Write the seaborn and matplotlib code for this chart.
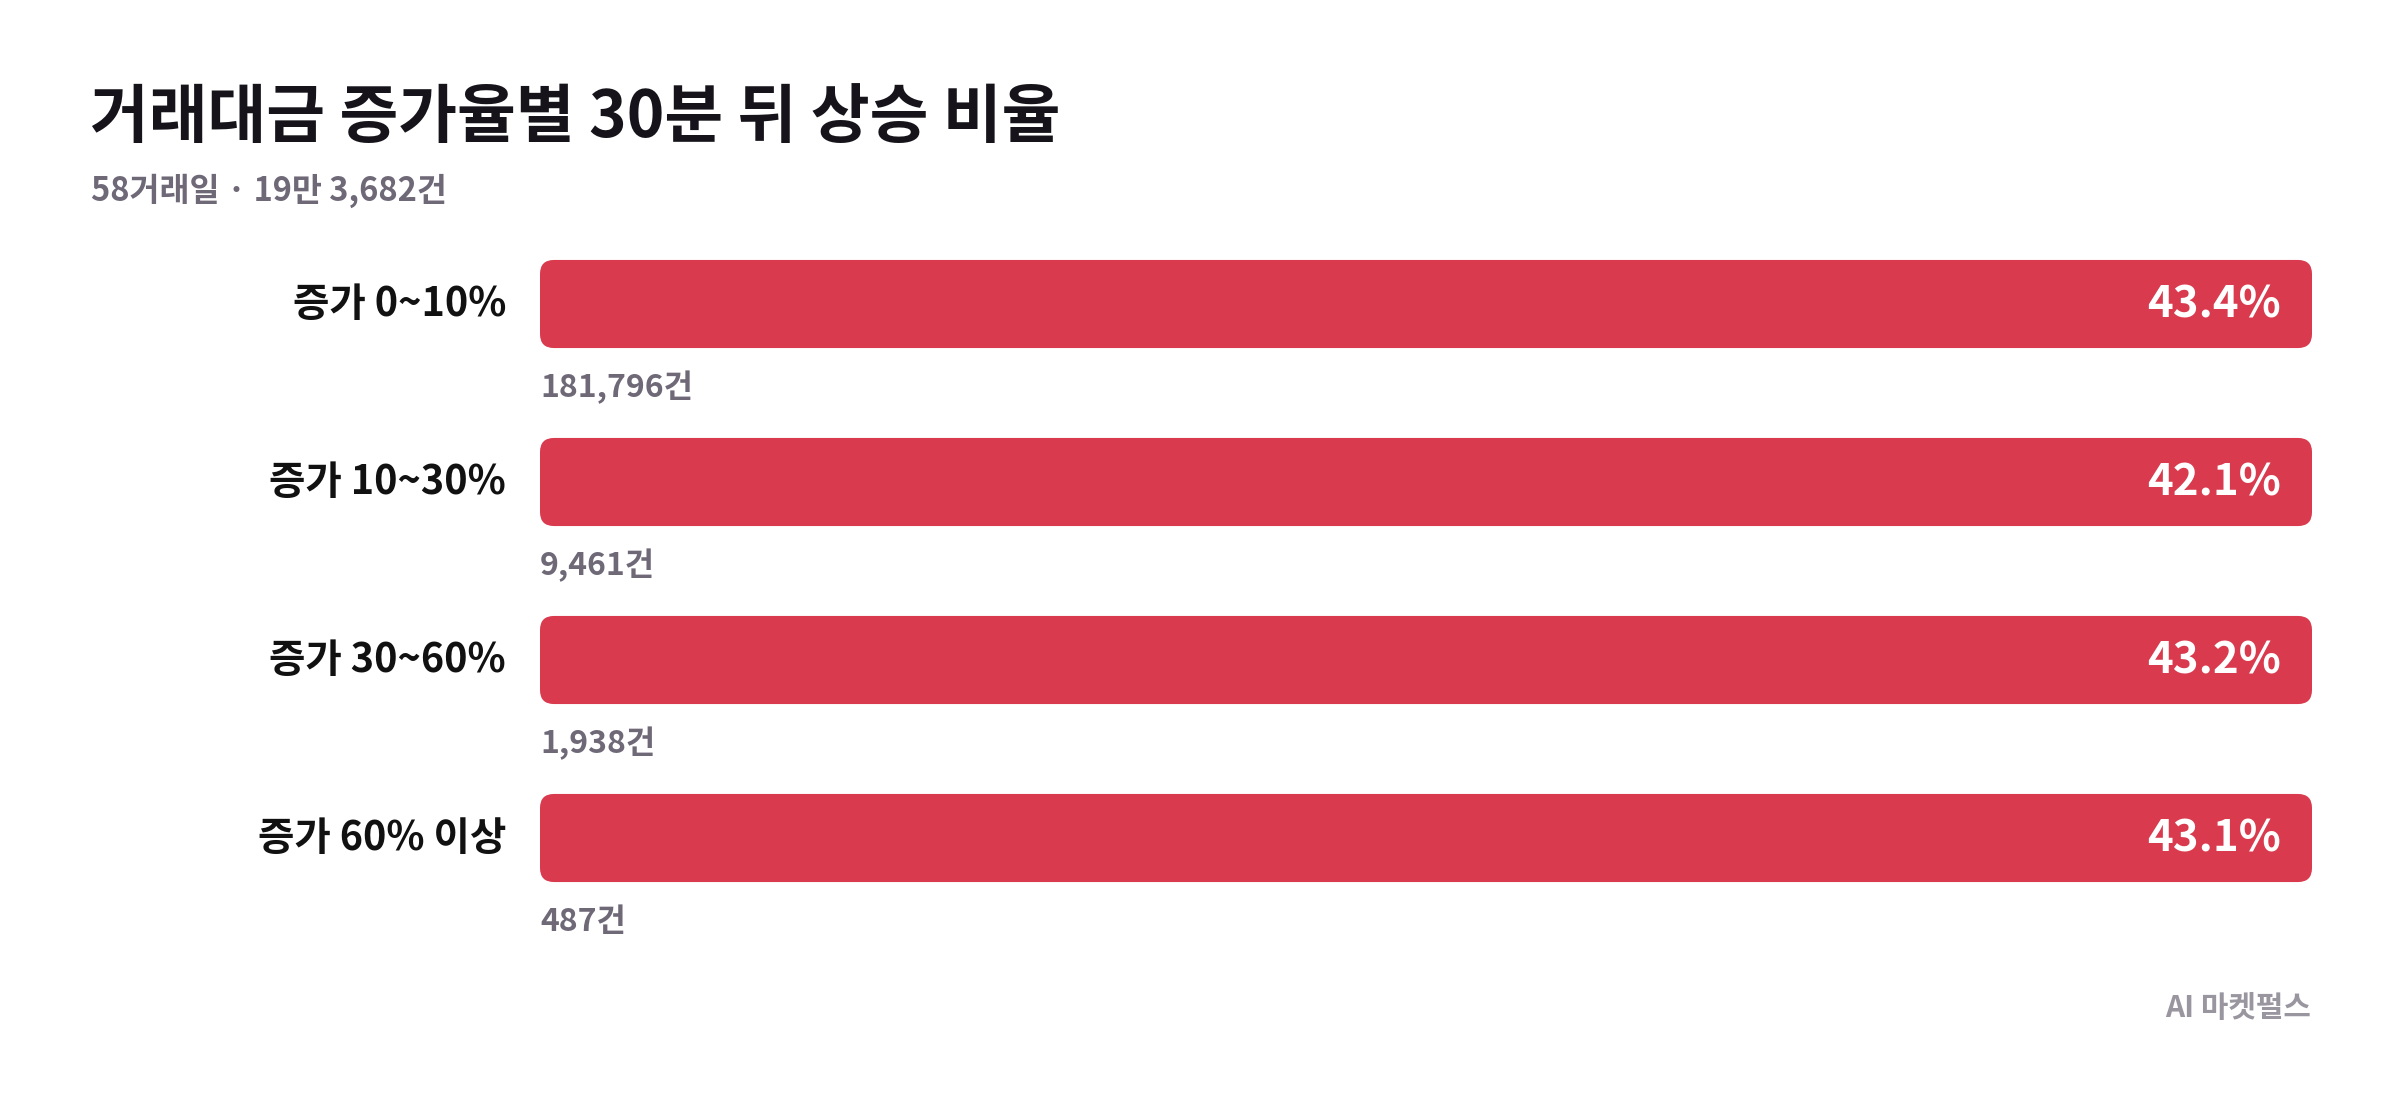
import numpy as np
import pandas as pd
import seaborn as sns
from matplotlib import pyplot as plt
from matplotlib.patches import FancyBboxPatch
from matplotlib import transforms

# data
categories = ['증가 0~10%', '증가 10~30%', '증가 30~60%', '증가 60% 이상']
up_ratio = [43.4, 42.1, 43.2, 43.1]
case_counts = [181796, 9461, 1938, 487]

title = '거래대금 증가율별 30분 뒤 상승 비율'
subtitle = '58거래일 · 19만 3,682건'
source = 'AI 마켓펄스'

# the bars in the reference are all full length: the scale tops out at 40%
scale_max = 40.0

BAR_RED = '#D93A4E'
INK = '#16141A'
GREY = '#6E6877'
LIGHT_GREY = '#9A96A0'

sns.set_theme(style='white')
plt.rcParams['font.family'] = ['Noto Sans CJK KR', 'DejaVu Sans']

df = pd.DataFrame({'category': categories,
                   'ratio': up_ratio,
                   'count': case_counts})
df['bar_len'] = np.minimum(df['ratio'], scale_max)

W, H = 2400, 1108
fig = plt.figure(figsize=(W / 100, H / 100), dpi=100)
fig.patch.set_facecolor('white')

# axes placed in pixels: bars from x=540 to 2312, rows centred at 304..838
ax_left, ax_right = 540, 2312
ax_top, ax_bottom = 215, 927
ax = fig.add_axes([ax_left / W, 1 - ax_bottom / H,
                   (ax_right - ax_left) / W, (ax_bottom - ax_top) / H])

sns.barplot(data=df, x='bar_len', y='category', orient='h', color=BAR_RED,
            width=0.495, saturation=1, ax=ax)
ax.set_xlim(0, scale_max)
ax.set_ylim(len(df) - 0.5, -0.5)
ax.axis('off')

# swap the square bars for rounded ones
px_per_x = (ax_right - ax_left) / scale_max
px_per_y = (ax_bottom - ax_top) / len(df)
radius_px = 14
for p in list(ax.patches):
    x0, y0 = p.get_x(), p.get_y()
    w, h = p.get_width(), p.get_height()
    p.remove()
    rb = FancyBboxPatch((x0, y0), w, h,
                        boxstyle='round,pad=0,rounding_size={}'.format(radius_px / px_per_x),
                        mutation_aspect=px_per_x / px_per_y,
                        facecolor=BAR_RED, edgecolor='none', linewidth=0)
    ax.add_patch(rb)

lbl_trans = transforms.blended_transform_factory(ax.transAxes, ax.transData)
val_trans = transforms.offset_copy(ax.transData, fig=fig, x=-31, y=0, units='dots')
for i, row in df.iterrows():
    # category name to the left of the bar
    ax.text(-34 / (ax_right - ax_left), i, row['category'], transform=lbl_trans,
            ha='right', va='center', fontsize=28.5, fontweight='bold', color='#111111')
    # ratio inside the bar end
    ax.text(row['bar_len'], i, '{:.1f}%'.format(row['ratio']), transform=val_trans,
            ha='right', va='center', fontsize=31.5, fontweight='bold', color='white')
    # case count under the bar
    ax.text(0, i + 0.47, '{:,}건'.format(row['count']), ha='left', va='center',
            fontsize=23, fontweight='bold', color=GREY)

fig.text(90 / W, 1 - 118 / H, title, ha='left', va='center',
         fontsize=46, fontweight='bold', color=INK)
fig.text(91 / W, 1 - 191 / H, subtitle, ha='left', va='center',
         fontsize=23.5, fontweight='bold', color=GREY)
fig.text(2311 / W, 1 - 1008 / H, source, ha='right', va='center',
         fontsize=21.5, fontweight='bold', color=LIGHT_GREY)

fig.savefig('out.png', dpi=100, facecolor='white')
